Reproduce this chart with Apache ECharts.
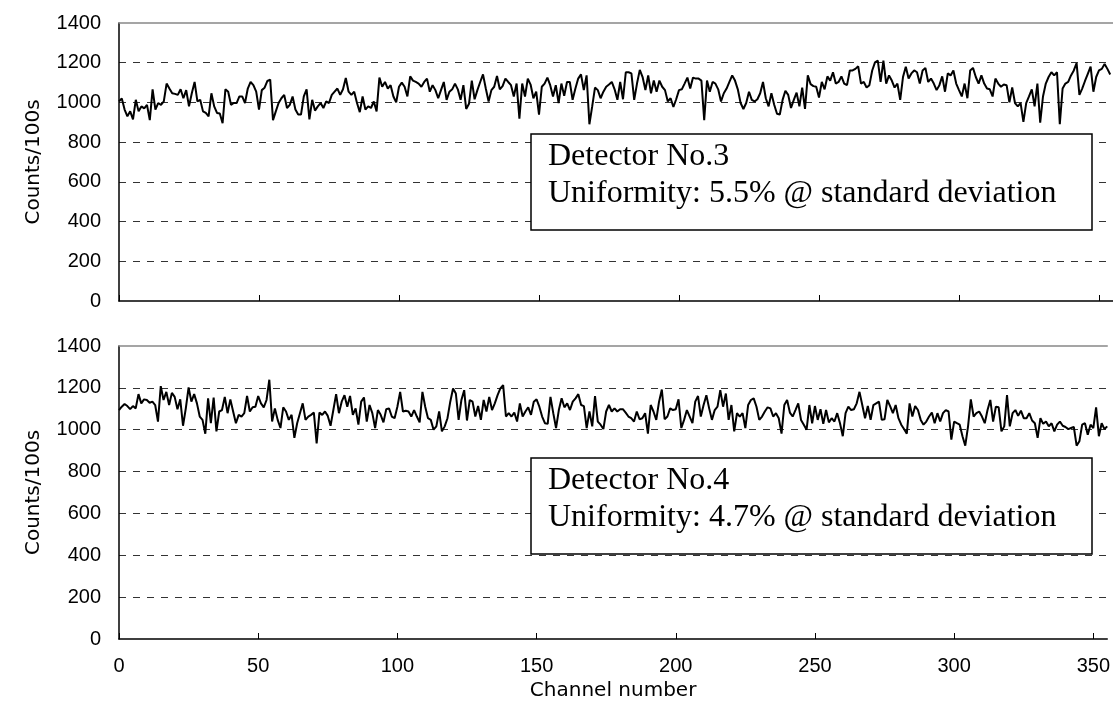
<!DOCTYPE html>
<html><head><meta charset="utf-8">
<script src="https://cdn.jsdelivr.net/npm/echarts@6/dist/echarts.min.js"></script>
<style>html,body{margin:0;padding:0;background:#fff}#c{width:1113px;height:707px}</style>
</head><body><div id="c"></div>
<script>
// Detector No.3 counts per channel (channel = index)
const det3 = [
1005,1020,964,930,955,915,1013,955,980,970,
988,911,1066,964,997,988,1005,1095,1070,1046,
1043,1038,1066,1021,1062,980,1046,1103,1005,1013,
955,947,930,1046,980,947,944,895,1066,1054,
988,997,997,1030,1030,997,1070,1103,1087,1054,
964,1062,1074,1108,1115,911,955,997,1021,1038,
972,988,1030,964,939,939,1030,1066,915,1013,
959,980,997,972,1005,997,1038,1054,1070,1038,
1066,1123,1054,1038,1054,997,951,1030,964,
980,972,1005,955,1125,1079,1103,1070,1087,1030,
1000,1079,1100,1079,1030,1131,1110,1103,
1095,1079,1103,1120,1054,1087,1062,1021,1062,1103,
1013,
1054,1066,1095,1066,1013,1087,967,993,1110,1016,1062,1103,1141,1070,1005,1062,1079,1133,1066,1082,1120,1103,1087,1030,1095,
918,1095,1030,1120,1090,1021,1054,939,1079,1095,1125,1087,1030,1087,997,1095,1033,1103,1103,1013,1070,1120,1141,1062,1136,890,
980,1075,1062,1021,1054,1079,1090,1103,1066,1013,1103,1016,1152,1152,1146,1013,1095,1164,1128,1062,1136,1046,1110,1054,1110,1079,1062,1005,1021,977,1016,1062,1066,1095,1125,1070,1125,1120,1120,1110,
911,
1110,1054,1103,1095,1066,1005,1046,1070,1103,1136,1110,1066,997,967,997,1054,1013,1005,1016,1046,1103,1021,980,1046,988,
943,939,
1013,1059,1038,972,1013,1049,980,1075,967,
1136,1092,1082,1079,1025,1103,1066,1131,1110,
1152,1095,1103,1131,1095,1087,1161,1161,1169,
1182,1095,1103,1075,1087,1161,1202,1210,
1103,1210,1095,1136,1110,1075,1095,1013,1128,
1180,1120,1146,1161,1152,1095,1161,1174,1103,
1120,1095,1062,1087,1131,1054,1146,1136,1161,1095,
1062,1030,1095,1021,1161,1174,1128,1095,1136,1095,
1070,1066,1030,1120,1095,1079,1090,1087,
1000,1075,997,980,997,902,997,1030,1066,
980,1095,898,1030,1095,1128,1152,1136,1152,
890,1070,1095,1103,1136,1161,1198,1038,1070,1108,
1144,1180,1054,1128,1161,1169,1194,1169,1141
];
// Detector No.4 counts per channel (channel = index)
const det4 = [
1094,1110,1123,1113,1098,1113,1102,1170,1126,1145,
1142,1129,1134,1118,1039,1208,1142,1181,1118,1176,
1157,1098,1145,1019,1102,1202,1134,1170,1126,
1063,1047,981,1150,1031,1154,992,1087,1094,
1157,1079,1145,1087,1031,1071,1063,1079,1161,1087,
1107,1110,1161,1126,1107,1142,1239,1039,1102,
1047,1008,1107,1087,1047,1071,961,1031,
1079,1126,1047,1063,1071,1082,934,1082,1071,1087,
1066,1019,1094,1170,1079,1134,1165,1110,1161,
1071,1102,1024,1134,1154,1039,1118,1079,1008,1094,
1071,1035,1098,1102,1063,1055,1110,1181,1087,1091,
1087,1063,1094,1063,1035,1181,1110,1055,1047,
1000,1016,1087,992,1016,1055,1134,1197,1173,
1047,1142,1189,1044,1142,1134,1063,1113,1047,1142,
1087,1157,1094,1126,1165,1197,1213,1063,1079,1063,
1082,1039,1126,1063,1087,1107,1071,1134,1145,1110,
1063,1031,1028,1157,1079,1008,1094,1150,1107,
1126,1094,1134,1150,1170,1118,1113,1008,1087,
1016,1161,1039,1024,1003,1087,1118,1087,
1102,1087,1098,1098,1082,1063,1055,1039,
1087,1050,1055,1079,981,1118,1087,1047,1134,1192,
1050,1063,1102,1094,1098,1145,1008,1047,1094,1063,
1031,1134,1161,1063,1118,1165,1102,1047,1094,
1110,1189,1110,1173,1047,1118,992,1079,1063,1079,
1008,1118,1142,1150,1110,1047,1063,1087,1107,1102,
1063,1079,1055,981,1118,1142,1082,1063,
1094,1126,1047,1024,1000,1118,1031,1113,1047,1098,
1028,1094,1035,1055,1039,1079,1031,969,1079,1110,
1094,1098,1126,1181,1118,1055,1113,1047,1118,
1126,1134,1047,1050,1142,1113,1079,1118,1055,
1024,1003,981,1126,1063,1113,1094,1047,1024,1039,
1063,1082,1031,1079,1039,1079,1094,1087,
953,1039,1031,1024,969,924,1016,1145,1063,1079,
1087,1063,1031,1094,1142,1039,1110,1107,992,
1016,1165,1016,1079,1094,1066,1091,1055,1055,1079,
1044,1031,961,1055,1028,1039,1016,1031,992,1024,
1039,1019,1013,1003,1008,1013,924,945,1024,1031,
976,1024,1008,1107,969,1031,1003,1016
];
const xMin = 0, xMax = 355, xStep = 50;
const yMin = 0, yMax = 1400, yStep = 200;
const yName = 'Counts/100s';
const xName = 'Channel number';
const box3Lines = ['Detector No.3', 'Uniformity: 5.5% @ standard deviation'];
const box4Lines = ['Detector No.4', 'Uniformity: 4.7% @ standard deviation'];

const SANS = '"Liberation Sans", Arial, sans-serif';
const NAMEFONT = '"DejaVu Sans", sans-serif';
const SERIF = '"Liberation Serif", "Times New Roman", serif';

function bottomX(gi, showLabels) {
  return {
    type: 'value', gridIndex: gi, position: 'bottom', min: xMin, max: xMax, interval: xStep,
    axisLine: {show: true, onZero: false, lineStyle: {color: '#000', width: 1.5}},
    axisTick: {show: true, inside: true, length: 6, lineStyle: {color: '#000', width: 1}},
    axisLabel: {show: showLabels, fontSize: 20, fontFamily: SANS, color: '#000', margin: 17, showMaxLabel: false,
      formatter: v => String(v)},
    splitLine: {show: false},
    name: showLabels ? xName : '', nameLocation: 'middle', nameGap: 42,
    nameTextStyle: {fontSize: 20, fontFamily: NAMEFONT, color: '#000'}
  };
}
function topX(gi) {
  return {
    type: 'value', gridIndex: gi, position: 'top', min: xMin, max: xMax, interval: xStep,
    axisLine: {show: true, onZero: false, lineStyle: {color: '#888', width: 1.5}},
    axisTick: {show: false}, axisLabel: {show: false}, splitLine: {show: false}
  };
}
function yAx(gi) {
  return {
    type: 'value', gridIndex: gi, min: yMin, max: yMax, interval: yStep,
    axisLine: {show: true, onZero: false, lineStyle: {color: '#000', width: 1.5}},
    axisTick: {show: false},
    axisLabel: {fontSize: 20, fontFamily: SANS, color: '#000', margin: 18, formatter: v => String(v)},
    splitLine: {show: true, showMinLine: false, showMaxLine: false,
      lineStyle: {color: '#333', width: 1, type: [7, 7]}},
    name: yName, nameLocation: 'middle', nameGap: 75, nameRotate: 90,
    nameTextStyle: {fontSize: 20, fontFamily: NAMEFONT, color: '#000'}
  };
}
function boxGraphics(top, lines) {
  return [
    {type: 'rect', shape: {x: 531, y: top, width: 561, height: 96},
     style: {fill: '#fff', stroke: '#000', lineWidth: 1.5}, z: 10},
    {type: 'text', x: 548, y: top + 23, z: 11,
     style: {text: lines[0], font: '32px ' + SERIF, fill: '#000', verticalAlign: 'middle'}},
    {type: 'text', x: 548, y: top + 60, z: 11,
     style: {text: lines[1], font: '32px ' + SERIF, fill: '#000', verticalAlign: 'middle'}}
  ];
}

const chart = echarts.init(document.getElementById('c'), null, {renderer: 'canvas'});
chart.setOption({
  animation: false,
  backgroundColor: '#fff',
  grid: [
    {left: 119, top: 23, right: 0, height: 278},
    {left: 119, top: 346, right: 0, height: 293}
  ],
  xAxis: [bottomX(0, false), topX(0), bottomX(1, true), topX(1)],
  yAxis: [yAx(0), yAx(1)],
  series: [
    {type: 'line', xAxisIndex: 0, yAxisIndex: 0, showSymbol: false,
     lineStyle: {color: '#000', width: 2}, data: det3.map((v, i) => [i, v])},
    {type: 'line', xAxisIndex: 2, yAxisIndex: 1, showSymbol: false,
     lineStyle: {color: '#000', width: 2}, data: det4.map((v, i) => [i, v])}
  ],
  graphic: boxGraphics(134, box3Lines).concat(boxGraphics(458, box4Lines))
});
</script></body></html>
